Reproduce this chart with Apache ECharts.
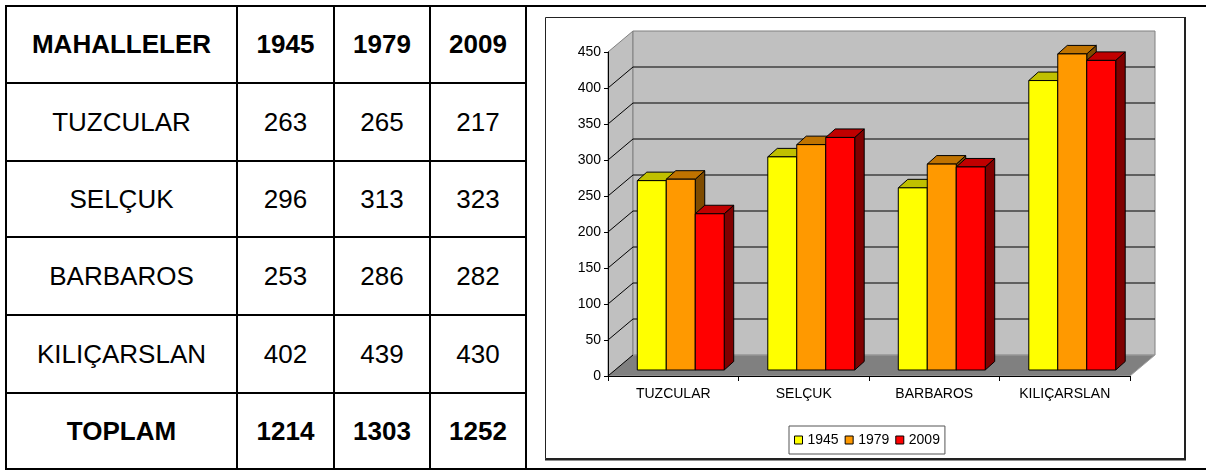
<!DOCTYPE html>
<html>
<head>
<meta charset="utf-8">
<script src="https://cdn.jsdelivr.net/npm/echarts@6/dist/echarts.min.js"></script>
<style>
  html, body { margin: 0; padding: 0; background: #fff; }
  #page { position: relative; width: 1206px; height: 471px; overflow: hidden; background: #fff;
          font-family: "Liberation Sans", Arial, sans-serif; }
  .hl, .vl { position: absolute; background: #000; }
  .cell { position: absolute; display: flex; align-items: center; justify-content: center;
          font-size: 26px; color: #000; white-space: nowrap; }
  .b { font-weight: bold; }
  #chart { position: absolute; left: 0; top: 0; width: 1206px; height: 471px; pointer-events: none; }
</style>
</head>
<body>
<div id="page">
  <div id="table"></div>
  <div id="chart"></div>
</div>
<script>
// ---------- data ----------
var categories = ['TUZCULAR', 'SELÇUK', 'BARBAROS', 'KILIÇARSLAN'];
var years = ['1945', '1979', '2009'];
var values1945 = [263, 296, 253, 402];
var values1979 = [265, 313, 286, 439];
var values2009 = [217, 323, 282, 430];
var totals = [1214, 1303, 1252];
var headerLabel = 'MAHALLELER';
var totalLabel = 'TOPLAM';
var yTicks = [0, 50, 100, 150, 200, 250, 300, 350, 400, 450];

// ---------- table (layout) ----------
var xLines = [6, 237, 334, 430, 526];
var yLines = [6, 83, 161, 237, 315, 393, 469];
var tbl = document.getElementById('table');
function addDiv(cls, css, text) {
  var d = document.createElement('div');
  d.className = cls;
  for (var k in css) d.style[k] = css[k];
  if (text !== undefined) d.textContent = text;
  tbl.appendChild(d);
  return d;
}
yLines.forEach(function (y, i) {
  var full = (i === 0 || i === yLines.length - 1);
  addDiv('hl', { left: (xLines[0] - 1) + 'px', top: (y - 1) + 'px', height: '2px',
                 width: ((full ? 1206 : xLines[xLines.length - 1] + 1) - (xLines[0] - 1)) + 'px' });
});
xLines.forEach(function (x) {
  addDiv('vl', { left: (x - 1) + 'px', top: (yLines[0] - 1) + 'px', width: '2px',
                 height: (yLines[yLines.length - 1] - yLines[0] + 2) + 'px' });
});
var seriesVals = [values1945, values1979, values2009];
var rows = [[headerLabel].concat(years)];
categories.forEach(function (c, i) {
  rows.push([c, seriesVals[0][i], seriesVals[1][i], seriesVals[2][i]]);
});
rows.push([totalLabel].concat(totals));
rows.forEach(function (row, r) {
  var bold = (r === 0 || r === rows.length - 1);
  row.forEach(function (txt, c) {
    addDiv('cell' + (bold ? ' b' : ''), {
      left: xLines[c] + 'px', top: yLines[r] + 'px',
      width: (xLines[c + 1] - xLines[c]) + 'px', height: (yLines[r + 1] - yLines[r]) + 'px'
    }, String(txt));
  });
});

// ---------- chart ----------
var FONT = '"Liberation Sans", Arial, sans-serif';
var DEPTH_X = 25, DEPTH_Y = -21;      // wall depth
var BAR_OFF_X = 7.5, BAR_OFF_Y = -6;  // bar front plane offset
var BAR_D_X = 9.5, BAR_D_Y = -8.5;    // bar depth
var BAR_FRAC = 0.222;
var colors = [
  { front: '#FFFF00', top: '#C0C000', side: '#808000' },
  { front: '#FF9900', top: '#C07300', side: '#7F4C00' },
  { front: '#FF0000', top: '#C00000', side: '#800000' }
];

function wallsRender(params, api) {
  var cs = params.coordSys;
  var x0 = cs.x, x1 = cs.x + cs.width;
  var y0 = api.coord([0, yTicks[0]])[1];
  var yTop = api.coord([0, yTicks[yTicks.length - 1]])[1];
  var children = [];
  children.push({ type: 'polygon', shape: { points: [[x0, yTop], [x0 + DEPTH_X, yTop + DEPTH_Y], [x0 + DEPTH_X, y0 + DEPTH_Y], [x0, y0]] },
                  style: { fill: '#C0C0C0', stroke: '#808080', lineWidth: 1 } });
  children.push({ type: 'rect', shape: { x: x0 + DEPTH_X, y: yTop + DEPTH_Y, width: x1 - x0, height: y0 - yTop } ,
                  style: { fill: '#C0C0C0', stroke: '#808080', lineWidth: 1 } });
  children.push({ type: 'polygon', shape: { points: [[x0, y0], [x0 + DEPTH_X, y0 + DEPTH_Y], [x1 + DEPTH_X, y0 + DEPTH_Y], [x1, y0]] },
                  style: { fill: '#808080', stroke: '#A0A0A0', lineWidth: 1 } });
  for (var i = 0; i < yTicks.length - 1; i++) {
    var y = api.coord([0, yTicks[i]])[1];
    children.push({ type: 'line', shape: { x1: x0, y1: y, x2: x0 + DEPTH_X, y2: y + DEPTH_Y },
                    style: { stroke: '#000', lineWidth: 1 } });
    if (i > 0) {
      children.push({ type: 'line', shape: { x1: x0 + DEPTH_X, y1: y + DEPTH_Y, x2: x1 + DEPTH_X, y2: y + DEPTH_Y },
                      style: { stroke: '#000', lineWidth: 1 } });
    }
  }
  return { type: 'group', children: children };
}

function barRender(k) {
  return function (params, api) {
    var ci = api.value(0), v = api.value(1);
    var base = api.coord([ci, 0]);
    var top = api.coord([ci, v]);
    var band = api.size([1, 0])[0];
    var bw = band * BAR_FRAC;
    var x0 = base[0] - 1.5 * bw + k * bw + BAR_OFF_X;
    var x1 = x0 + bw;
    var yb = base[1] + BAR_OFF_Y;
    var yt = top[1] + BAR_OFF_Y;
    var c = colors[k];
    return { type: 'group', children: [
      { type: 'polygon', shape: { points: [[x1, yb], [x1 + BAR_D_X, yb + BAR_D_Y], [x1 + BAR_D_X, yt + BAR_D_Y], [x1, yt]] },
        style: { fill: c.side, stroke: '#000', lineWidth: 1 } },
      { type: 'polygon', shape: { points: [[x0, yt], [x1, yt], [x1 + BAR_D_X, yt + BAR_D_Y], [x0 + BAR_D_X, yt + BAR_D_Y]] },
        style: { fill: c.top, stroke: '#000', lineWidth: 1 } },
      { type: 'rect', shape: { x: x0, y: yt, width: bw, height: yb - yt },
        style: { fill: c.front, stroke: '#000', lineWidth: 1 } }
    ] };
  };
}

var chart = echarts.init(document.getElementById('chart'), null, { renderer: 'canvas' });
var series = [{
  type: 'custom', name: 'walls', renderItem: wallsRender, data: [[0, 0]],
  encode: { x: 0, y: 1 }, z: 1, clip: false, silent: true
}];
years.forEach(function (yr, k) {
  series.push({
    type: 'custom', name: yr, renderItem: barRender(k),
    data: categories.map(function (c, i) { return [i, seriesVals[k][i]]; }),
    encode: { x: 0, y: 1 }, z: 2, clip: false,
    itemStyle: { color: colors[k].front }
  });
});

chart.setOption({
  animation: false,
  backgroundColor: 'transparent',
  graphic: [
    { type: 'rect', z: -1, shape: { x: 545.5, y: 17.5, width: 639, height: 441 },
      style: { fill: 'none', stroke: '#222', lineWidth: 1 } },
    { type: 'polyline', z: -1, shape: { points: [[1185, 17], [1185, 459.5], [545, 459.5]] },
      style: { fill: 'none', stroke: '#222', lineWidth: 2 } }
  ],
  grid: { left: 608, top: 52, width: 522, height: 324 },
  xAxis: {
    type: 'category', data: categories, z: 5,
    axisLine: { show: true, lineStyle: { color: '#000', width: 1 } },
    axisTick: { show: true, length: 5, lineStyle: { color: '#000' } },
    axisLabel: { interval: 0, color: '#000', fontSize: 14, fontFamily: FONT, margin: 11 },
    splitLine: { show: false }
  },
  yAxis: {
    type: 'value', min: yTicks[0], max: yTicks[yTicks.length - 1], interval: yTicks[1] - yTicks[0], z: 5,
    axisLine: { show: true, lineStyle: { color: '#000', width: 1 } },
    axisTick: { show: true, length: 4, lineStyle: { color: '#000' } },
    axisLabel: { color: '#000', fontSize: 14, fontFamily: FONT, margin: 7 },
    splitLine: { show: false }
  },
  legend: {
    data: years, left: 789, top: 426, orient: 'horizontal',
    icon: 'rect', itemWidth: 8, itemHeight: 8, itemGap: 6,
    padding: [7, 5, 7, 5], borderColor: '#555', borderWidth: 1, backgroundColor: '#fff',
    itemStyle: { borderColor: '#000', borderWidth: 1 },
    textStyle: { color: '#000', fontSize: 14, fontFamily: FONT },
    selectedMode: false
  },
  series: series
});
</script>
</body>
</html>
